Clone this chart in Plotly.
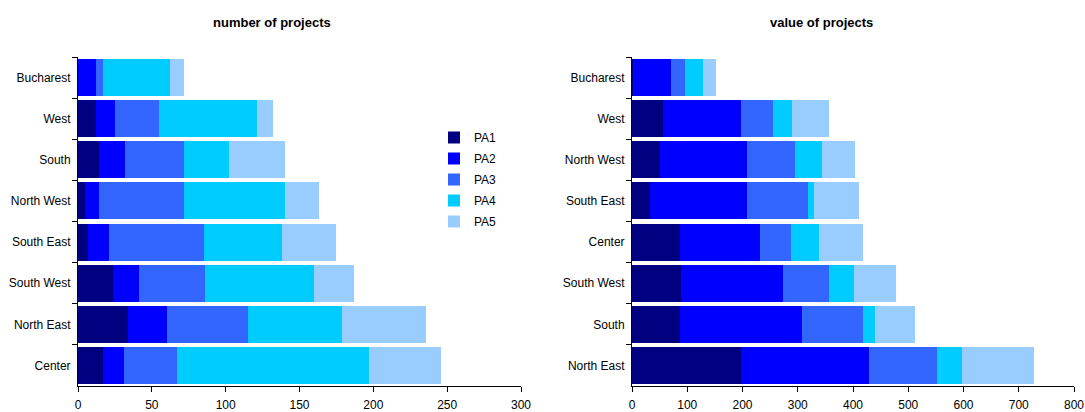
import plotly.graph_objects as go

regions_count = ["Bucharest", "West", "South", "North West", "South East", "South West", "North East", "Center"]
count_pa1 = [0, 12, 14, 5, 7, 24, 34, 17]
count_pa2 = [12, 13, 18, 9, 14, 17, 26, 14]
count_pa3 = [5, 30, 40, 58, 64, 45, 55, 36]
count_pa4 = [45, 66, 30, 68, 53, 74, 64, 130]
count_pa5 = [10, 11, 38, 23, 37, 27, 57, 49]

regions_value = ["Bucharest", "West", "North West", "South East", "Center", "South West", "South", "North East"]
value_pa1 = [2, 56, 51, 33, 87, 89, 87, 197]
value_pa2 = [69, 141, 157, 175, 145, 184, 221, 232]
value_pa3 = [25, 58, 87, 111, 56, 84, 110, 123]
value_pa4 = [33, 35, 49, 11, 51, 45, 22, 45]
value_pa5 = [23, 67, 60, 80, 79, 76, 72, 131]

series_names = ["PA1", "PA2", "PA3", "PA4", "PA5"]
colors = ["#000080", "#0000FF", "#3366FF", "#00CCFF", "#99CCFF"]

left_series = [count_pa1, count_pa2, count_pa3, count_pa4, count_pa5]
right_series = [value_pa1, value_pa2, value_pa3, value_pa4, value_pa5]

fig = go.Figure()
for name, col, vals in zip(series_names, colors, left_series):
    fig.add_trace(go.Bar(y=regions_count, x=vals, orientation="h", name=name,
                         marker=dict(color=col, line=dict(width=0)),
                         legendgroup=name, xaxis="x", yaxis="y"))
for name, col, vals in zip(series_names, colors, right_series):
    fig.add_trace(go.Bar(y=regions_value, x=vals, orientation="h", name=name,
                         marker=dict(color=col, line=dict(width=0)),
                         legendgroup=name, showlegend=False, xaxis="x2", yaxis="y2"))

font = dict(family="Liberation Sans, Arial, sans-serif", size=12, color="#000000")
axis_common = dict(showline=True, linecolor="#000000", linewidth=1, ticks="outside",
                   tickcolor="#000000", ticklen=5, showgrid=False, zeroline=False,
                   tickfont=font, automargin=False)

fig.update_layout(
    width=1085, height=412,
    margin=dict(l=0, r=0, t=0, b=0),
    paper_bgcolor="white", plot_bgcolor="white",
    barmode="stack", bargap=0.1,
    font=font,
    xaxis=dict(domain=[78/1085, 521/1085], range=[0, 300], dtick=50, anchor="y",
               ticklabelstandoff=3, **axis_common),
    yaxis=dict(domain=[1-386/412, 1-57/412], categoryorder="array", categoryarray=regions_count,
               autorange="reversed", tickson="boundaries", ticklabelstandoff=4, anchor="x", **axis_common),
    xaxis2=dict(domain=[632/1085, 1074/1085], range=[0, 800], dtick=100, anchor="y2",
                ticklabelstandoff=3, **axis_common),
    yaxis2=dict(domain=[1-386/412, 1-57/412], categoryorder="array", categoryarray=regions_value,
                autorange="reversed", tickson="boundaries", ticklabelstandoff=4, anchor="x2", **axis_common),
    legend=dict(x=434/1085, y=1-123/412, xanchor="left", yanchor="top", font=font,
                tracegroupgap=2, bgcolor="rgba(0,0,0,0)", itemwidth=30),
    annotations=[
        dict(text="<b>number of projects</b>", x=272/1085, y=1-23/412, xref="paper", yref="paper",
             xanchor="center", yanchor="middle", showarrow=False,
             font=dict(family="Liberation Sans, Arial, sans-serif", size=13, color="#000")),
        dict(text="<b>value of projects</b>", x=821/1085, y=1-23/412, xref="paper", yref="paper",
             xanchor="center", yanchor="middle", showarrow=False,
             font=dict(family="Liberation Sans, Arial, sans-serif", size=13, color="#000")),
    ],
)

fig.write_html("out.html")
